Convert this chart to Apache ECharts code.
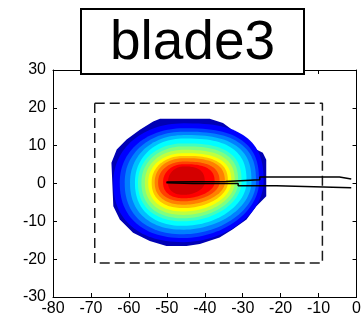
<!DOCTYPE html>
<html>
<head>
<meta charset="utf-8">
<style>
  html, body { margin: 0; padding: 0; background: #fff; }
  #chart { width: 364px; height: 322px; }
</style>
<script src="https://cdn.jsdelivr.net/npm/echarts@6/dist/echarts.min.js"></script>
</head>
<body>
<div id="chart"></div>
<script>
const titleText = 'blade3'
const xTicks = [-80, -70, -60, -50, -40, -30, -20, -10, 0]
const yTicks = [-30, -20, -10, 0, 10, 20, 30]

// outer edge of the blob
const outerX = [-51.8, -38.7, -35.2, -31.7, -29.0, -26.4, -24.7, -23.8, -23.8, -26.4, -29.0, -32.6, -36.1, -41.3, -44.8, -50.1, -54.5, -58.9, -62.4, -64.1, -64.6, -63.2, -60.6, -57.1, -53.6]
const outerY = [17.1, 17.1, 16.0, 13.4, 10.7, 9.0, 8.1, 6.3, -3.4, -6.0, -9.5, -12.1, -14.3, -16.0, -16.5, -16.5, -15.2, -13.0, -9.5, -6.0, 5.5, 9.0, 11.6, 14.2, 16.4]

// colour bands, outer -> inner, with their extents from the hot spot
const hotSpot = [-45.5, 0.3]
const bandColors = ['#0000b4', '#0000ff', '#0040ff', '#0080ff', '#00bfff', '#00ffff', '#40ffbf', '#80ff80', '#bfff40', '#ffff00', '#ffbf00', '#ff8000', '#ff4000', '#ff0000', '#d40000']
const bandLeft = [19.5, 18.6, 16.9, 15.6, 14.2, 12.9, 12.1, 11.2, 10.3, 9.4, 8.5, 7.7, 6.8, 5.5, 4.2]
const bandRight = [22.2, 21.0, 19.8, 19.0, 17.8, 16.5, 15.2, 14.3, 13.4, 12.5, 11.6, 10.8, 9.4, 8.1, 5.5]
const bandTop = [16.9, 15.6, 14.3, 13.4, 12.5, 11.6, 10.3, 9.5, 8.6, 7.7, 7.0, 6.4, 5.5, 4.8, 4.2]
const bandBottom = [16.9, 15.8, 14.7, 13.7, 12.5, 11.5, 10.3, 9.5, 8.6, 7.7, 6.8, 5.9, 5.0, 4.2, 3.3]
// roundness of each quadrant: NE, NW, SW, SE
const quadExp = [2.7, 2.1, 2.3, 1.9]

// dashed box
const boxX = [-69, -9, -9, -69, -69]
const boxY = [21.2, 21.2, -21, -21, 21.2]

// the two black traces
const upperX = [-50.1, -34.5, -34.5, -25.5, -25.5, -4.5, -4.5, -1.4]
const upperY = [0.4, 0.5, 1.0, 1.0, 1.7, 1.7, 1.2, 1.2]
const lowerX = [-50.1, -43.1, -31.2, -31.2, -21.1, -21.1, -1.4]
const lowerY = [0.2, 0.0, 0.0, -0.6, -0.6, -1.1, -1.1]

const font = 'Arial, "Liberation Sans", Helvetica, sans-serif'
const zip = (xs, ys) => xs.map((x, i) => [x, ys[i]])

function renderBand(params, api) {
  const i = params.dataIndex
  let pts
  if (i === 0) {
    pts = outerX.map((x, k) => api.coord([x, outerY[k]]))
  } else {
    pts = []
    for (let k = 0; k < 120; k++) {
      const t = (k / 120) * Math.PI * 2
      const c = Math.cos(t)
      const s = Math.sin(t)
      const q = c >= 0 ? (s >= 0 ? 0 : 3) : (s >= 0 ? 1 : 2)
      const e = 2 / quadExp[q]
      const u = Math.sign(c) * Math.pow(Math.abs(c), e)
      const v = Math.sign(s) * Math.pow(Math.abs(s), e)
      pts.push(api.coord([
        hotSpot[0] + u * (c > 0 ? bandRight[i] : bandLeft[i]),
        hotSpot[1] + v * (s > 0 ? bandTop[i] : bandBottom[i]),
      ]))
    }
  }
  return { type: 'polygon', shape: { points: pts }, style: { fill: bandColors[i] } }
}

const axisBase = {
  type: 'value',
  interval: 10,
  axisLine: { onZero: false, lineStyle: { color: '#000', width: 1 } },
  axisTick: { inside: true, length: 4, lineStyle: { color: '#000' } },
  splitLine: { show: false },
}
const label = { color: '#000', fontSize: 16, fontFamily: font }

const chart = echarts.init(document.getElementById('chart'), null, { renderer: 'canvas' })
chart.setOption({
  animation: false,
  backgroundColor: '#fff',
  grid: { left: 53, right: 7, top: 70, bottom: 25, containLabel: false },
  xAxis: [
    { ...axisBase, position: 'bottom', min: xTicks[0], max: xTicks[xTicks.length - 1], axisLabel: { ...label, margin: 4 } },
    { ...axisBase, position: 'top', min: xTicks[0], max: xTicks[xTicks.length - 1], axisLabel: { show: false } },
  ],
  yAxis: [
    { ...axisBase, position: 'left', min: yTicks[0], max: yTicks[yTicks.length - 1], axisLabel: { ...label, margin: 7 } },
    { ...axisBase, position: 'right', min: yTicks[0], max: yTicks[yTicks.length - 1], axisLabel: { show: false } },
  ],
  series: [
    {
      type: 'custom',
      renderItem: renderBand,
      data: bandColors.map((c, i) => [hotSpot[0], hotSpot[1], i]),
      encode: { x: 0, y: 1 },
      silent: true,
      z: 1,
    },
    {
      type: 'line',
      data: zip(boxX, boxY),
      symbol: 'none',
      lineStyle: { color: '#1a1a1a', width: 1.5, type: [10, 5] },
      z: 2,
    },
    {
      type: 'line',
      data: zip(upperX, upperY),
      symbol: 'none',
      lineStyle: { color: '#000', width: 1.5 },
      z: 3,
    },
    {
      type: 'line',
      data: zip(lowerX, lowerY),
      symbol: 'none',
      lineStyle: { color: '#000', width: 1.5 },
      z: 3,
    },
  ],
  graphic: [
    {
      type: 'rect',
      z: 100,
      shape: { x: 81, y: 9, width: 223, height: 65 },
      style: { fill: '#fff', stroke: '#000', lineWidth: 2 },
    },
    {
      type: 'text',
      z: 101,
      x: 192.5,
      y: 44,
      style: { text: titleText, font: '55px ' + font, fill: '#000', align: 'center', verticalAlign: 'middle' },
    },
  ],
})
</script>
</body>
</html>
